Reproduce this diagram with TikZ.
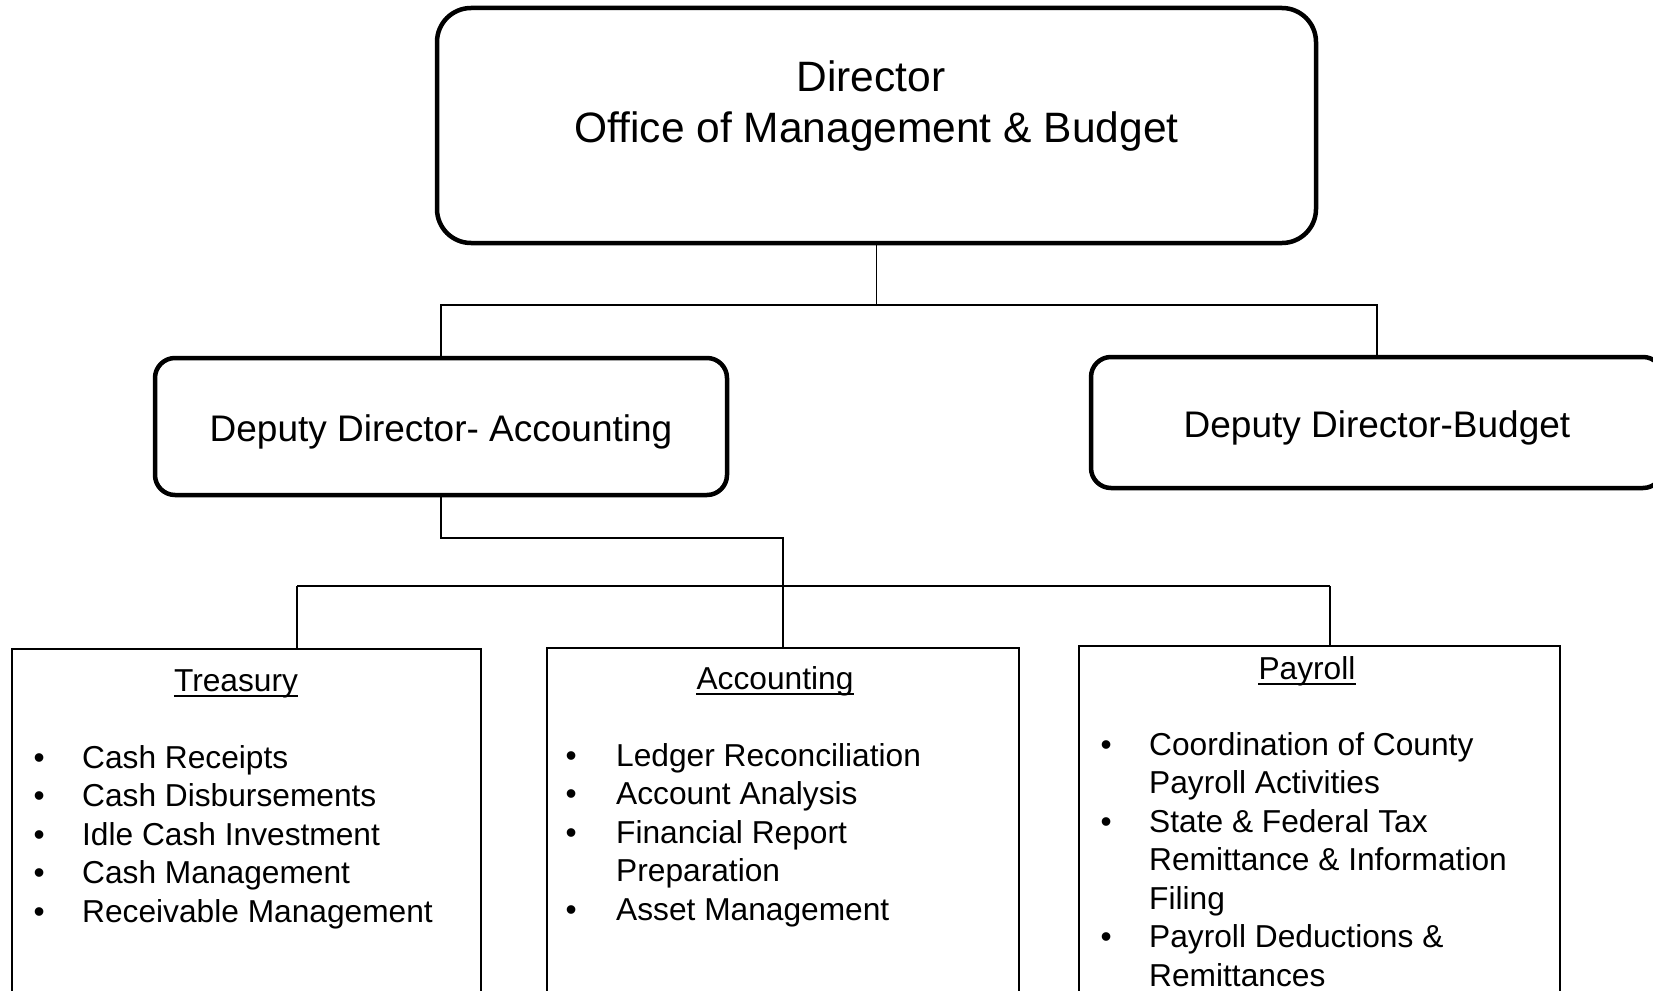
\documentclass[tikz,border=0pt]{standalone}
\usepackage{fontspec}
\setmainfont{Liberation Sans}
\begin{document}
\begin{tikzpicture}[x=1pt,y=-1pt,
  headbox/.style={draw,line width=4.5pt,rounded corners=34pt,inner sep=0pt},
  depbox/.style={draw,line width=4.5pt,rounded corners=20pt,inner sep=0pt,minimum width=572pt},
  unitbox/.style={draw,line width=1.9pt,inner sep=0pt,anchor=north west,minimum height=400pt},
  conn/.style={line width=1.6pt},
  bigtxt/.style={anchor=base,inner sep=0pt,font=\fontsize{42.5}{51}\selectfont},
  deptxt/.style={anchor=base,inner sep=0pt,font=\fontsize{37}{44}\selectfont},
  ttl/.style={anchor=base,inner sep=0pt,font=\fontsize{31.7}{38.5}\selectfont},
  lst/.style={anchor=base west,inner sep=0pt,font=\fontsize{31.7}{38.5}\selectfont},
  uline/.style={line width=1.9pt}]
\useasboundingbox (0,0) rectangle (1653,990);

% boxes
\node[headbox,minimum width=879pt,minimum height=235pt] (dir) at (876.5,125.5) {};
\node[depbox,minimum height=137pt] (dacc) at (441,426.5) {};
\node[depbox,minimum height=131pt] (dbud) at (1377,422.5) {};
\node[unitbox,minimum width=469pt] (tre) at (11,648) {};
\node[unitbox,minimum width=472pt] (acc) at (546,647) {};
\node[unitbox,minimum width=481pt] (pay) at (1078,645) {};

% texts
\node[bigtxt] (dirt1) at (871,91) {Director};
\node[bigtxt] (dirt2) at (876.5,142) {Office of Management \& Budget};
\node[deptxt] (dacct) at (441,441) {Deputy Director- Accounting};
\node[deptxt] (dbudt) at (1377,437) {Deputy Director-Budget};

\node[ttl] (tret) at (236,691) {Treasury};
\node[ttl] (acct) at (775,689) {Accounting};
\node[ttl] (payt) at (1307,679) {Payroll};
\draw[uline] ([yshift=-5pt]tret.base west) -- ([yshift=-5pt]tret.base east);
\draw[uline] ([yshift=-5pt]acct.base west) -- ([yshift=-5pt]acct.base east);
\draw[uline] ([yshift=-5pt]payt.base west) -- ([yshift=-5pt]payt.base east);

\node[lst] (trel) at (33.5,768) {\begin{tabular}[t]{@{}p{48.5pt}@{}l@{}}
\textbullet & Cash Receipts\\
\textbullet & Cash Disbursements\\
\textbullet & Idle Cash Investment\\
\textbullet & Cash Management\\
\textbullet & Receivable Management
\end{tabular}};

\node[lst] (accl) at (565.5,766) {\begin{tabular}[t]{@{}p{50.5pt}@{}l@{}}
\textbullet & Ledger Reconciliation\\
\textbullet & Account Analysis\\
\textbullet & Financial Report\\
 & Preparation\\
\textbullet & Asset Management
\end{tabular}};

\node[lst] (payl) at (1100.5,755) {\begin{tabular}[t]{@{}p{48.5pt}@{}l@{}}
\textbullet & Coordination of County\\
 & Payroll Activities\\
\textbullet & State \& Federal Tax\\
 & Remittance \& Information\\
 & Filing\\
\textbullet & Payroll Deductions \&\\
 & Remittances
\end{tabular}};

% connectors
\coordinate (lv1) at (0,305);
\coordinate (lv2) at (0,538);
\coordinate (tx) at (297,586);
\coordinate (px) at (1330,586);
\draw[conn] (dir.south) -- (dir.south |- lv1);
\draw[conn] (dacc.north) |- (dir.south |- lv1) -| (dbud.north);
\draw[conn] (dacc.south) |- (acc.north |- lv2) -- (acc.north);
\draw[conn] (tx) -- (px);
\draw[conn] (tx) -- (tx |- tre.north);
\draw[conn] (px) -- (px |- pay.north);
\end{tikzpicture}
\end{document}
